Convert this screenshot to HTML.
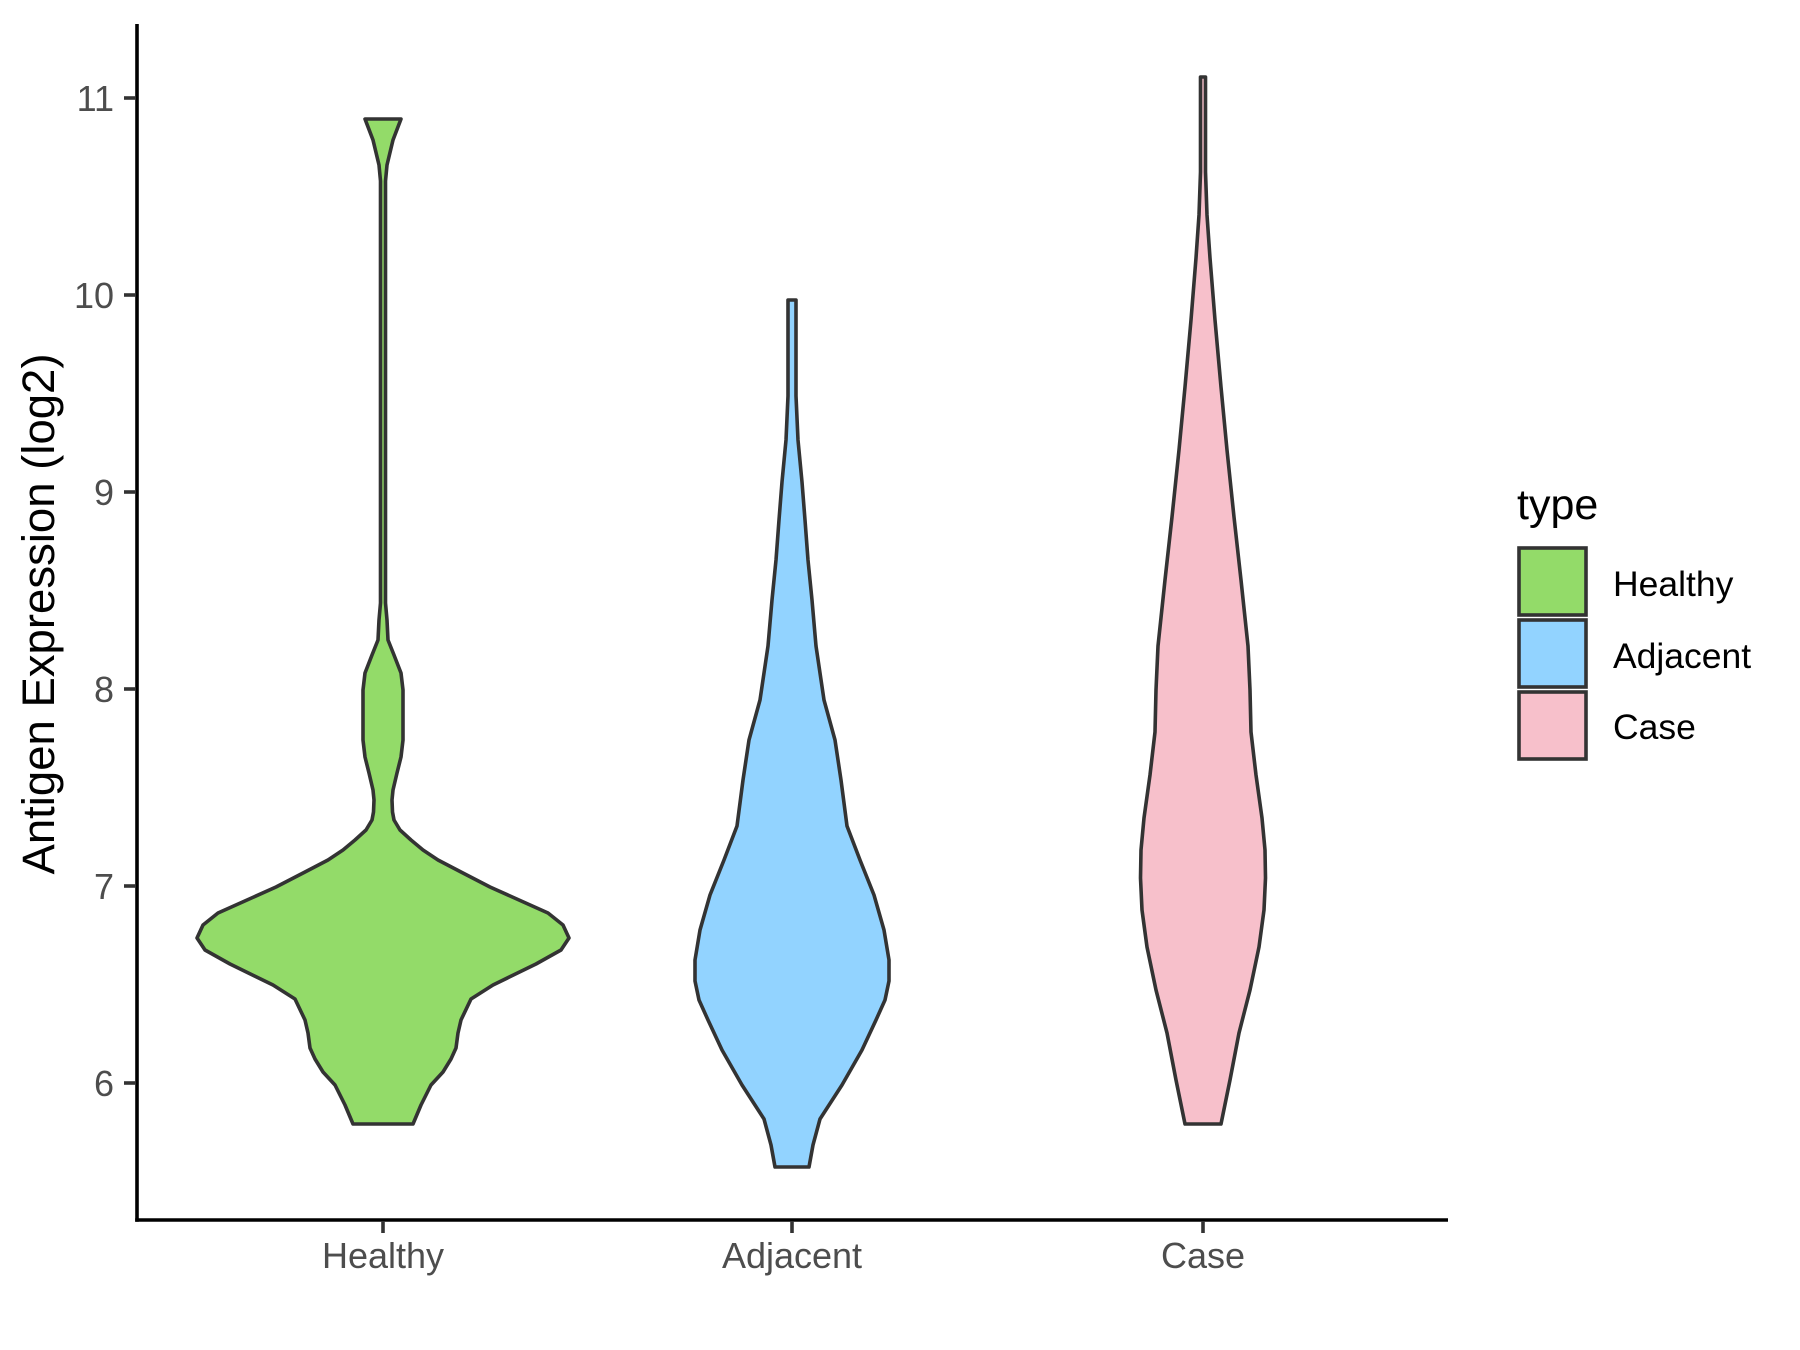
<!DOCTYPE html>
<html><head><meta charset="utf-8"><style>
html,body{margin:0;padding:0;background:#fff;}
svg{display:block;}
text{font-family:"Liberation Sans",Arial,sans-serif;}
</style></head><body>
<svg width="1800" height="1350" viewBox="0 0 1800 1350" xmlns="http://www.w3.org/2000/svg">
<rect width="1800" height="1350" fill="#fff"/>
<g stroke="#333333" stroke-width="3.6" stroke-linejoin="round">
<!-- Healthy -->
<polygon fill="#93DB69" points="
365,119 401,119 393,140 387,165 385.5,181 385.5,198 385.5,603 387,620 388,640 394,655 401,673 403,690 403,707 403,740 401,757 397,773 393,790 392,800 392.5,812 394,820 400,830 411,840 423,850 438,860 461,872 490,887 548,913 563,925 569,938 561,950 536,964 493,985 471,999 461,1020 458,1033 456,1048 451,1059 443,1072 431,1085 421,1105 413,1124
353,1124 345,1105 335,1085 323,1072 315,1059 310,1048 308,1033 305,1020 295,999 273,985 230,964 205,950 197,938 203,925 218,913 276,887 305,872 328,860 343,850 355,840 366,830 372,820 373.5,812 374,800 373,790 369,773 365,757 363,740 363,707 363,690 365,673 372,655 378,640 379,620 380.5,603 380.5,198 380.5,181 379,165 373,140"/>
<!-- Adjacent -->
<polygon fill="#92D3FF" points="
788,300 796,300 796,396 798,440 802,482 805,520 808,560 812,600 816,646 824,700 835,740 841,780 847,826 860,860 874,895 884,930 889,960 889,981 885,1000 876,1020 862,1050 842,1085 820,1119 813,1145 809,1167
775,1167 771,1145 764,1119 742,1085 722,1050 708,1020 699,1000 695,981 695,960 700,930 710,895 724,860 737,826 743,780 749,740 760,700 768,646 772,600 776,560 779,520 782,482 786,440 788,396"/>
<!-- Case -->
<polygon fill="#F7C0CB" points="
1200.5,77 1205.5,77 1205.5,172 1207,215 1210,258 1215,320 1221,387 1227,450 1234,517 1241,580 1248,646 1250,690 1251,732 1256,775 1262,818 1265,850 1265.5,878 1264,910 1259,947 1250,990 1239,1033 1230,1080 1221,1124
1185,1124 1176,1080 1167,1033 1156,990 1147,947 1142,910 1140.5,878 1141,850 1144,818 1150,775 1155,732 1156,690 1158,646 1165,580 1172,517 1179,450 1185,387 1191,320 1196,258 1199,215 1200.5,172"/>
</g>
<!-- axes -->
<g stroke="#000" stroke-width="3.6" fill="none">
<line x1="137" y1="24" x2="137" y2="1221.8"/>
<line x1="135.2" y1="1220" x2="1448" y2="1220"/>
</g>
<g stroke="#333" stroke-width="3.6">
<line x1="124" y1="98" x2="136" y2="98"/>
<line x1="124" y1="295" x2="136" y2="295"/>
<line x1="124" y1="492" x2="136" y2="492"/>
<line x1="124" y1="689" x2="136" y2="689"/>
<line x1="124" y1="886" x2="136" y2="886"/>
<line x1="124" y1="1083" x2="136" y2="1083"/>
<line x1="383" y1="1221" x2="383" y2="1233"/>
<line x1="792" y1="1221" x2="792" y2="1233"/>
<line x1="1203" y1="1221" x2="1203" y2="1233"/>
</g>
<g fill="#4d4d4d" font-size="36" text-anchor="end">
<text x="114" y="111">11</text>
<text x="114" y="308">10</text>
<text x="114" y="505">9</text>
<text x="114" y="702">8</text>
<text x="114" y="899">7</text>
<text x="114" y="1096">6</text>
</g>
<g fill="#4d4d4d" font-size="36" text-anchor="middle">
<text x="383" y="1268">Healthy</text>
<text x="792" y="1268">Adjacent</text>
<text x="1203" y="1268">Case</text>
</g>
<text transform="translate(54,614) rotate(-90)" text-anchor="middle" font-size="45.5" fill="#000">Antigen Expression (log2)</text>
<!-- legend -->
<text x="1517" y="519" font-size="43" fill="#000">type</text>
<g stroke="#333" stroke-width="3.6">
<rect x="1519" y="548" width="67" height="67" fill="#93DB69"/>
<rect x="1519" y="620" width="67" height="67" fill="#92D3FF"/>
<rect x="1519" y="692" width="67" height="67" fill="#F7C0CB"/>
</g>
<g font-size="35.5" fill="#000">
<text x="1613" y="596">Healthy</text>
<text x="1613" y="668">Adjacent</text>
<text x="1613" y="739">Case</text>
</g>
</svg>
</body></html>
